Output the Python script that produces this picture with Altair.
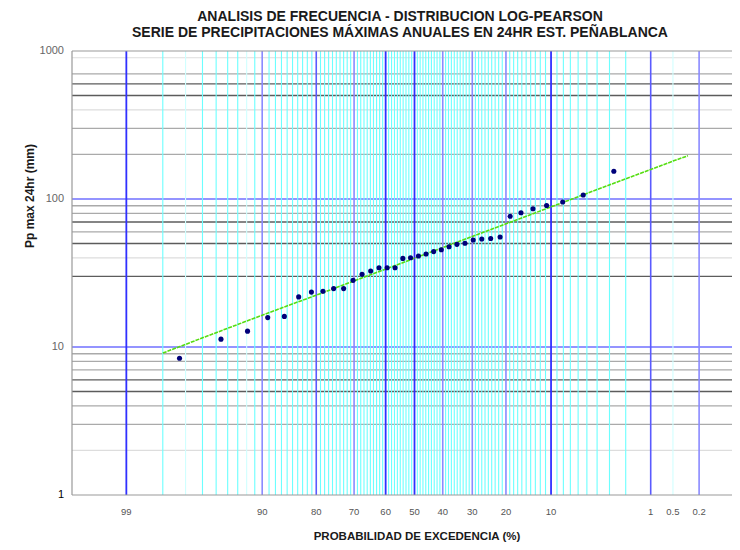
import altair as alt
import pandas as pd

# ---------------- texts ----------------
TITLE1 = "ANALISIS DE FRECUENCIA - DISTRIBUCION LOG-PEARSON"
TITLE2 = "SERIE DE PRECIPITACIONES MÁXIMAS ANUALES EN 24HR EST. PEÑABLANCA"
X_TITLE = "PROBABILIDAD DE EXCEDENCIA (%)"
Y_TITLE = "Pp max 24hr (mm)"

# ---------------- observed series (exceedance %, mm) ----------------
p_obs = [2.7, 5.4, 8.1, 10.8, 13.5, 16.2, 18.9, 21.6, 24.3, 27.0, 29.7, 32.4,
         35.1, 37.8, 40.5, 43.2, 45.9, 48.6, 51.4, 54.1, 56.8, 59.5, 62.2, 64.9,
         67.6, 70.3, 73.0, 75.7, 78.4, 81.1, 83.8, 86.5, 89.2, 91.9, 94.6, 97.3]
pp_obs = [153.9, 106.4, 95.4, 90.4, 85.9, 80.7, 76.4, 55.4, 54.1, 53.7, 52.8, 50.2,
          49.4, 47.6, 45.4, 44.1, 42.5, 41.2, 40.1, 39.7, 34.3, 34.3, 34.3, 32.6,
          31.0, 28.2, 24.8, 24.8, 23.8, 23.5, 21.8, 16.1, 15.8, 12.8, 11.3, 8.4]

# ---------------- fitted Log-Pearson line ----------------
p_fit = [98, 95, 90, 80, 50, 20, 10, 5, 2, 1, 0.5, 0.3]
pp_fit = [9.1, 12.5, 16.4, 22.4, 39.8, 68.0, 88.4, 109.1, 136.9, 158.2, 180.3, 196.0]

# ---------------- grid / ticks ----------------
x_tick_p = [99, 90, 80, 70, 60, 50, 40, 30, 20, 10, 1, 0.5, 0.2]
x_tick_lab = ["99", "90", "80", "70", "60", "50", "40", "30", "20", "10", "1", "0.5", "0.2"]
v_blue_dark = [99, 60, 50, 10]
v_blue_mid = [80, 1]
v_blue_light = [90, 70, 40, 30, 20, 0.2]
v_cyan = [98, 96, 95, 94, 93, 91,
          89, 88, 87, 86, 85, 84, 83, 82, 81,
          79, 78, 77, 76, 75, 74, 73, 72, 71,
          69, 68, 67, 66, 65, 64, 63, 62, 61,
          59, 58, 57, 56, 55, 54, 53, 52, 51,
          49, 48, 47, 46, 45, 44, 43, 42, 41,
          39, 38, 37, 36, 35, 34, 33, 32, 31,
          29, 28, 27, 26, 25, 24, 23, 22, 21,
          19, 18, 17, 16, 15, 14, 13, 12, 11,
          9, 8, 7, 6, 5, 4, 3, 2]
v_cyan_faint = [97, 92, 0.5]

y_tick_v = [1, 10, 100, 1000]
y_tick_lab = ["1", "10", "100", "1000"]
h_blue = [10, 100]
h_dark = [5, 6, 30, 50, 70, 500, 600]
h_mid = [3, 4, 7, 8, 9, 60, 80, 90, 200, 300, 700]
h_light = [2, 40, 400, 900]

# ---------------- layout ----------------
W, H = 660, 444
FONT = "Liberation Sans"
xscale = alt.Scale(domain=[-342.5, 317.5], nice=False, zero=False)
yscale = alt.Scale(type="log", domain=[1, 1000], nice=False)


def prob(chart):
    # normal-probability paper position for an exceedance probability p (%)
    return chart.transform_calculate(
        u="quantileNormal(1 - datum.p / 100)"
    ).transform_calculate(
        xp="112.7 * datum.u - 4.8 * datum.u * datum.u"
    )


def vlines(plist, color, width):
    c = alt.Chart(pd.DataFrame({"p": plist})).mark_rule(color=color, strokeWidth=width)
    return prob(c).encode(
        x=alt.X("xp:Q", scale=xscale, axis=None),
        y=alt.value(0), y2=alt.value(H))


def hlines(vals, color, width):
    return alt.Chart(pd.DataFrame({"v": vals})).mark_rule(
        color=color, strokeWidth=width).encode(
        y=alt.Y("v:Q", scale=yscale, axis=None),
        x=alt.value(0), x2=alt.value(W))


layers = [
    hlines(h_light, "#dddddd", 1.2),
    hlines(h_mid, "#aaaaaa", 1.3),
    hlines(h_dark, "#5c5c5c", 1.4),
    hlines(h_blue, "#7070ff", 1.4),
    vlines(v_cyan_faint, "#d0ffff", 1.1),
    vlines(v_cyan, "#6cffff", 1.1),
    vlines(v_blue_light, "#8a8aff", 1.6),
    vlines(v_blue_mid, "#5a5aff", 1.6),
    vlines(v_blue_dark, "#3030ff", 1.8),
]

# border (left, top, bottom)
border_df = pd.DataFrame({"k": [0]})
layers += [
    alt.Chart(border_df).mark_rule(color="#999999", strokeWidth=1.2).encode(
        x=alt.value(0), y=alt.value(0), y2=alt.value(H)),
    alt.Chart(border_df).mark_rule(color="#999999", strokeWidth=1.2).encode(
        x=alt.value(0), x2=alt.value(W), y=alt.value(0)),
    alt.Chart(border_df).mark_rule(color="#999999", strokeWidth=1.2).encode(
        x=alt.value(0), x2=alt.value(W), y=alt.value(H)),
]

# fitted line
fit = prob(alt.Chart(pd.DataFrame({"p": p_fit, "v": pp_fit})).mark_line(
    color="#55dd11", strokeWidth=1.6, strokeDash=[4, 1])).encode(
    x=alt.X("xp:Q", scale=xscale, axis=None),
    y=alt.Y("v:Q", scale=yscale, axis=None),
    order=alt.Order("xp:Q"))

# observed points
pts = prob(alt.Chart(pd.DataFrame({"p": p_obs, "v": pp_obs})).mark_point(
    filled=True, color="#00007a", size=26, opacity=1)).encode(
    x=alt.X("xp:Q", scale=xscale, axis=None),
    y=alt.Y("v:Q", scale=yscale, axis=None))

layers += [fit, pts]

# x tick labels
xlab = prob(alt.Chart(pd.DataFrame({"p": x_tick_p, "lab": x_tick_lab})).mark_text(
    font=FONT, fontSize=9.5, color="#555555", baseline="middle", align="center")).encode(
    x=alt.X("xp:Q", scale=xscale, axis=None),
    y=alt.value(H + 17),
    text="lab:N")

# y tick labels
ylab = alt.Chart(pd.DataFrame({"v": y_tick_v, "lab": y_tick_lab})).mark_text(
    font=FONT, fontSize=11, baseline="middle", align="right").encode(
    y=alt.Y("v:Q", scale=yscale, axis=None),
    x=alt.value(-8),
    text="lab:N",
    color=alt.condition("datum.v == 1", alt.value("#000000"), alt.value("#666666")))

layers += [xlab, ylab]


def txt(s, x, y, size, angle=0):
    return alt.Chart(pd.DataFrame({"t": [s]})).mark_text(
        font=FONT, fontSize=size, fontWeight="bold", color="#1a1a1a",
        align="center", baseline="middle", angle=angle).encode(
        text="t:N", x=alt.value(x), y=alt.value(y))


layers += [
    txt(TITLE1, 328, -34.5, 14),
    txt(TITLE2, 328, -18.5, 14),
    txt(X_TITLE, 345, 486, 11.5),
    txt(Y_TITLE, -42, 145, 12, angle=270),
]

chart = alt.layer(*layers).properties(
    width=W, height=H,
    autosize=alt.AutoSizeParams(type="none"),
    padding={"left": 64, "top": 43, "right": 0, "bottom": 47},
).configure_view(stroke=None)

chart.save("out.html", embed_options={"renderer": "svg", "actions": False})
